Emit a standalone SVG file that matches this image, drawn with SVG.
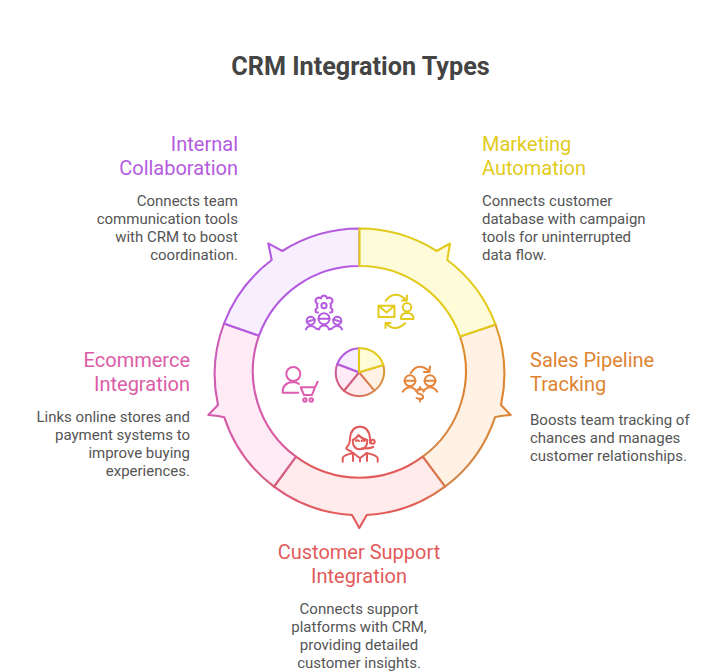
<svg xmlns="http://www.w3.org/2000/svg" width="720" height="671" viewBox="0 0 720 671">
<style>
text{font-family:Roboto,"Liberation Sans",sans-serif;fill:#555;font-size:15px}
.t{font-size:25.2px;font-weight:700;fill:#444;text-anchor:middle}
.h{font-size:20px}
.e{text-anchor:end}.m{text-anchor:middle}
.seg{stroke-width:2.1;stroke-linejoin:round}
.ic{fill:none;stroke-width:2;stroke-linecap:round;stroke-linejoin:round}
</style>
<defs>
<linearGradient id="g1" gradientUnits="userSpaceOnUse" x1="359" y1="228" x2="496" y2="400"><stop offset="0" stop-color="#E2CB1C"/><stop offset="0.7" stop-color="#E2CB1C"/><stop offset="1" stop-color="#DE8431"/></linearGradient>
<linearGradient id="g2" gradientUnits="userSpaceOnUse" x1="480" y1="320" x2="430" y2="490"><stop offset="0" stop-color="#DE9A2C"/><stop offset="0.3" stop-color="#DE8431"/><stop offset="1" stop-color="#CF8A50"/></linearGradient>
<linearGradient id="g3" gradientUnits="userSpaceOnUse" x1="440" y1="480" x2="280" y2="480"><stop offset="0" stop-color="#D97A4C"/><stop offset="0.2" stop-color="#E25A5A"/><stop offset="0.8" stop-color="#E25A5A"/><stop offset="1" stop-color="#DC5C80"/></linearGradient>
<linearGradient id="g4" gradientUnits="userSpaceOnUse" x1="280" y1="490" x2="240" y2="320"><stop offset="0" stop-color="#CF5F70"/><stop offset="0.3" stop-color="#DB5CA6"/><stop offset="1" stop-color="#C95CB8"/></linearGradient>
<linearGradient id="p2" gradientUnits="userSpaceOnUse" x1="383" y1="365" x2="374" y2="391"><stop offset="0" stop-color="#DD9C30"/><stop offset="1" stop-color="#D98A50"/></linearGradient>
<linearGradient id="p3" gradientUnits="userSpaceOnUse" x1="374" y1="391" x2="344" y2="391"><stop offset="0" stop-color="#D98A50"/><stop offset="1" stop-color="#DC5C70"/></linearGradient>
<linearGradient id="p4" gradientUnits="userSpaceOnUse" x1="344" y1="391" x2="337" y2="364"><stop offset="0" stop-color="#D55F70"/><stop offset="1" stop-color="#CC5CB0"/></linearGradient>
</defs>
<text class="t" x="360.5" y="74.5">CRM Integration Types</text>

<g id="node-sales-pipeline">
<path class="seg" fill="#FFF1E3" stroke="url(#g2)" d="M495.5 324.5A143.5 143.5 0 0 1 501 405L510.7 415Q499 416 495 417.3A143.5 143.5 0 0 1 445 486.7L422.7 456.7A106 106 0 0 0 460 336.5Z"/>
<path class="ic" stroke="#E5843A" d="M410.7 373Q418 362 428 370M430 366.5L429.5 372L424 372M404.6 380.7h11M424.6 380.7h11M402.7 391.7Q406 387.3 410 387.3Q414 387.3 416.7 391.7M423.3 391.7Q426 387.3 430 387.3Q434 387.3 437.3 391.7M424 390.5Q420 387.5 417.5 390Q416.5 393.5 420 394Q424 395 423 398Q420.5 400.5 416.5 398M420 387v3M420 398.5v3"/>
<circle class="ic" stroke="#E5843A" cx="410" cy="380.7" r="5.4"/><circle class="ic" stroke="#E5843A" cx="430" cy="380.7" r="5.4"/>
<text class="h" style="fill:#DE8431" x="530" y="367">Sales Pipeline</text>
<text class="h" style="fill:#DE8431" x="530" y="391">Tracking</text>
<text x="530" y="425">Boosts team tracking of</text><text x="530" y="443">chances and manages</text><text x="530" y="461">customer relationships.</text>
</g>

<g id="node-customer-support">
<path class="seg" fill="#FFEBEB" stroke="url(#g3)" d="M445 486.7A143.5 143.5 0 0 1 366.7 515L359.3 528L352 515A143.5 143.5 0 0 1 274 486.7L296 456.7A106 106 0 0 0 422.7 456.7Z"/>
<path class="ic" stroke="#E25A5A" d="M342.7 461.7V458Q343.5 455 353.3 453L360 458.3L366.5 453Q376.5 455 377.7 458V461.7M353 453V461M367 453V461M360 458.3V461.5M351.7 451.7Q345 449 346.7 447.3Q350 444 350 438.3Q351 426.7 360 426.7Q369 426.7 370 438.3V443M352.7 440Q352.7 449.3 360 449.3Q367.3 449.3 367.3 440M352.7 440Q356 439 358.3 435Q362 439 367.3 440M356 441q1.5-1.5 3 0M361.5 441q1.5-1.5 3 0M361.7 448.3Q369 449 373.3 447"/>
<circle class="ic" stroke="#E25A5A" cx="372.7" cy="441.7" r="2"/>
<text class="h m" style="fill:#E25A5A" x="359" y="559">Customer Support</text>
<text class="h m" style="fill:#E25A5A" x="359" y="583">Integration</text>
<text class="m" x="359" y="614">Connects support</text><text class="m" x="359" y="632">platforms with CRM,</text><text class="m" x="359" y="650">providing detailed</text><text class="m" x="359" y="668">customer insights.</text>
</g>

<g id="node-ecommerce">
<path class="seg" fill="#FFEBF6" stroke="url(#g4)" d="M274 486.7A143.5 143.5 0 0 1 224.3 417.3Q220 416 208.3 415L218 405A143.5 143.5 0 0 1 224 323.5L259 335.7A106 106 0 0 0 296 456.7Z"/>
<path class="ic" stroke="#DE5CB0" d="M282.7 392.7Q282.5 382.5 293 382Q296.5 382 299 384M282.7 392.7H298.3M300.7 387.3H315L312 395H304ZM315 387.3L317.7 381.7"/>
<circle class="ic" stroke="#DE5CB0" cx="293.3" cy="374" r="7"/><circle class="ic" stroke="#DE5CB0" cx="305" cy="400" r="1.7"/><circle class="ic" stroke="#DE5CB0" cx="311.3" cy="400" r="1.7"/>
<text class="h e" style="fill:#DB5CA6" x="190" y="367">Ecommerce</text>
<text class="h e" style="fill:#DB5CA6" x="190" y="391">Integration</text>
<text class="e" x="190" y="422">Links online stores and</text><text class="e" x="190" y="440">payment systems to</text><text class="e" x="190" y="458">improve buying</text><text class="e" x="190" y="476">experiences.</text>
</g>

<g id="node-internal">
<path class="seg" fill="#F7EFFE" stroke="#B45BE0" d="M224 323.5A143.5 143.5 0 0 1 271.7 260L268.3 243.3Q277 248 282.3 251A143.5 143.5 0 0 1 359.5 228.5V266A106 106 0 0 0 259 335.7Z"/>
<path class="ic" stroke="#B45BE0" d="M318 312.5L316 312.3Q314.5 309.5 317.5 307.7Q316.5 305.5 317.5 303.7Q314.5 302 316 299Q318 296.5 321 298.5Q321 296 324 295.5Q327 296 327 298.5Q330 296.5 332 299Q333.5 302 330.5 303.7Q331.5 305.5 330.5 307.7Q333.5 309.5 332 312.3L330 312.5M306.7 322L314.7 319.4M318.5 318.7H329.5M333.3 319.4L341.3 322M306 329.5Q307 326 311 326Q314 326 316 328.5L319 329.5Q320 325.5 324 325.5Q328 325.5 329 329.5L332 328.5Q334 326 337 326Q341 326 342 329.5"/>
<circle class="ic" stroke="#B45BE0" cx="324" cy="305.7" r="2.6"/><circle class="ic" stroke="#B45BE0" cx="310.7" cy="320.7" r="4"/><circle class="ic" stroke="#B45BE0" cx="324" cy="318.7" r="5.5"/><circle class="ic" stroke="#B45BE0" cx="337.3" cy="320.7" r="4"/>
<text class="h e" style="fill:#B45BE0" x="238" y="151">Internal</text>
<text class="h e" style="fill:#B45BE0" x="238" y="175">Collaboration</text>
<text class="e" x="238" y="206">Connects team</text><text class="e" x="238" y="224">communication tools</text><text class="e" x="238" y="242">with CRM to boost</text><text class="e" x="238" y="260">coordination.</text>
</g>

<g id="node-marketing">
<path class="seg" fill="#FEFBD8" stroke="url(#g1)" d="M359.5 228.5A143.5 143.5 0 0 1 436.7 251L450 243.5L447.3 260A143.5 143.5 0 0 1 495.5 324.5L460 336.5A106 106 0 0 0 359.5 266Z"/>
<path class="ic" stroke="#E2CB1C" d="M378.5 305.7H394.5V317H378.5ZM378.5 305.7L386.5 312.5L394.5 305.7M401 319Q400.5 313 407 313Q413.5 313 413.5 319ZM385.7 300.7Q395 289 406.5 300.5M406.8 295.5V300.5H402M405 323.3Q395 333 385.7 323M385.5 328V323H390.5"/>
<circle class="ic" stroke="#E2CB1C" cx="407" cy="307.3" r="4.2"/>
<text class="h" style="fill:#E2CB1C" x="482" y="151">Marketing</text>
<text class="h" style="fill:#E2CB1C" x="482" y="175">Automation</text>
<text x="482" y="206">Connects customer</text><text x="482" y="224">database with campaign</text><text x="482" y="242">tools for uninterrupted</text><text x="482" y="260">data flow.</text>
</g>

<g id="node-center-pie">
<path class="seg" fill="#FFF1E3" stroke="url(#p2)" d="M359 372.3L383.3 365A24 24 0 0 1 374.3 390.7Z"/>
<path class="seg" fill="#FFEBEB" stroke="url(#p3)" d="M359 372.3L374.3 390.7A24 24 0 0 1 344 390.7Z"/>
<path class="seg" fill="#FFEBF6" stroke="url(#p4)" d="M359 372.3L344 390.7A24 24 0 0 1 337.3 364Z"/>
<path class="seg" fill="#F7EFFE" stroke="#B45BE0" d="M359 372.3L337.3 364A24 24 0 0 1 359 348.3Z"/>
<path class="seg" fill="#FEFBD8" stroke="#E2CB1C" d="M359 372.3V348.3A24 24 0 0 1 383.3 365Z"/>
</g>
</svg>
